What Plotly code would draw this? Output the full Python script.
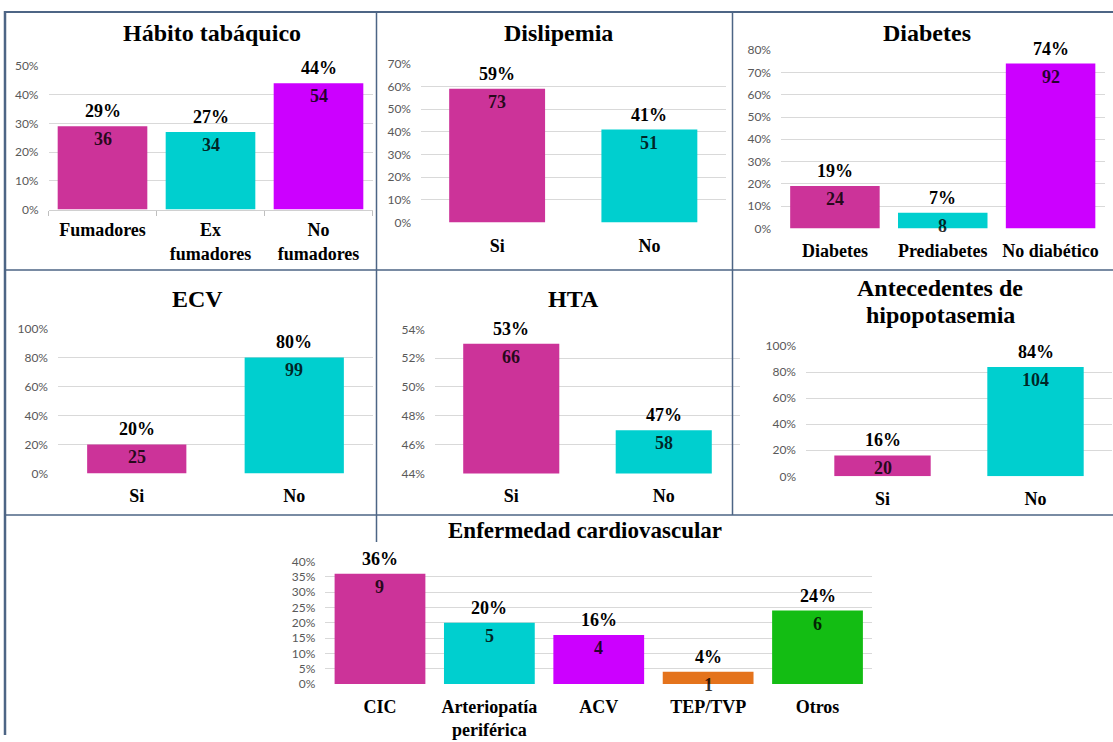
import plotly.graph_objects as go

W, H = 1113, 742

# ---------------- data ----------------
hab_cats = ["Fumadores", "Ex<br>fumadores", "No<br>fumadores"]
hab_pct = [0.29, 0.27, 0.44]
hab_n = [36, 34, 54]

dis_cats = ["Si", "No"]
dis_pct = [0.59, 0.41]
dis_n = [73, 51]

dia_cats = ["Diabetes", "Prediabetes", "No diabético"]
dia_pct = [0.19, 0.07, 0.74]
dia_n = [24, 8, 92]

ecv_cats = ["Si", "No"]
ecv_pct = [0.20, 0.80]
ecv_n = [25, 99]

hta_cats = ["Si", "No"]
hta_pct = [0.53, 0.47]
hta_n = [66, 58]

hipo_cats = ["Si", "No"]
hipo_pct = [0.16, 0.84]
hipo_n = [20, 104]

enf_cats = ["CIC", "Arteriopatía<br>periférica", "ACV", "TEP/TVP", "Otros"]
enf_pct = [0.36, 0.20, 0.16, 0.04, 0.24]
enf_n = [9, 5, 4, 1, 6]

# ---------------- styles ----------------
MAG, TUR, PUR, ORA, GRN = "#CC3399", "#00CFCF", "#CC00FF", "#E4731C", "#13BD13"
SERIF = "Liberation Serif, Times New Roman, serif"
SANS = "Lato, Calibri, sans-serif"
GRID = "#D9D9D9"
BORDER = "#4D6585"

panels = [
    dict(cats=hab_cats, pct=hab_pct, n=hab_n, colors=[MAG, TUR, PUR],
         xpx=(48.5, 372.5), ypx=(59.3, 205.7), rng=(0, 0.5), dtick=0.1, width=0.83,
         titles=[("Hábito tabáquico", 212, 26)], ticks=True),
    dict(cats=dis_cats, pct=dis_pct, n=dis_n, colors=[MAG, TUR],
         xpx=(421, 725.5), ypx=(57, 219), rng=(0, 0.7), dtick=0.1, width=0.63,
         titles=[("Dislipemia", 558, 26)], ticks=False),
    dict(cats=dia_cats, pct=dia_pct, n=dia_n, colors=[MAG, TUR, PUR],
         xpx=(781, 1104.5), ypx=(43, 225), rng=(0, 0.8), dtick=0.1, width=0.83,
         titles=[("Diabetes", 927, 26)], ticks=False),
    dict(cats=ecv_cats, pct=ecv_pct, n=ecv_n, colors=[MAG, TUR],
         xpx=(58, 373), ypx=(327, 475), rng=(0, 1.0), dtick=0.2, width=0.63,
         titles=[("ECV", 197, 297)], ticks=False),
    dict(cats=hta_cats, pct=hta_pct, n=hta_n, colors=[MAG, TUR],
         xpx=(435, 740), ypx=(328, 475), rng=(0.44, 0.54), dtick=0.02, width=0.63,
         titles=[("HTA", 573, 297)], ticks=False),
    dict(cats=hipo_cats, pct=hipo_pct, n=hipo_n, colors=[MAG, TUR],
         xpx=(806, 1112), ypx=(345, 478), rng=(0, 1.0), dtick=0.2, width=0.63,
         titles=[("Antecedentes de", 940, 286), ("hipopotasemia", 940, 313)], ticks=False),
    dict(cats=enf_cats, pct=enf_pct, n=enf_n, colors=[MAG, TUR, PUR, ORA, GRN],
         xpx=(325.3, 872.2), ypx=(565, 690), rng=(0, 0.4), dtick=0.05, width=0.83,
         titles=[("Enfermedad cardiovascular", 585, 533)], ticks=False),
]

fig = go.Figure()
annotations = []
layout_axes = {}

for i, p in enumerate(panels, start=1):
    xa = "x" if i == 1 else f"x{i}"
    ya = "y" if i == 1 else f"y{i}"
    xkey = "xaxis" if i == 1 else f"xaxis{i}"
    ykey = "yaxis" if i == 1 else f"yaxis{i}"

    fig.add_trace(go.Bar(
        x=p["cats"], y=p["pct"], marker=dict(color=p["colors"], line=dict(width=0)),
        width=p["width"], xaxis=xa, yaxis=ya, hoverinfo="skip", showlegend=False,
    ))

    x0, x1 = p["xpx"]
    yt, yb = p["ypx"]
    xaxis = dict(
        domain=[x0 / W, x1 / W], anchor=ya, type="category",
        tickfont=dict(family=SERIF, size=18, color="black", weight="bold"),
        showgrid=False, zeroline=False, fixedrange=True,
    )
    if p["ticks"]:
        xaxis.update(ticks="outside", tickson="boundaries", ticklen=5, tickcolor="#BFBFBF",
                     showline=True, linecolor="#D0D0D0", ticklabelstandoff=4)
    else:
        xaxis.update(ticks="", showline=False, ticklabelstandoff=10)
    yaxis = dict(
        domain=[1 - yb / H, 1 - yt / H], anchor=xa, range=list(p["rng"]),
        dtick=p["dtick"], tick0=0, tickformat=".0%",
        tickfont=dict(family=SANS, size=12, color="#595959"),
        showgrid=True, gridcolor=GRID, gridwidth=1, zeroline=False, showline=False,
        ticks="", ticklabelstandoff=9, fixedrange=True,
    )
    layout_axes[xkey] = xaxis
    layout_axes[ykey] = yaxis

    for c, v, n in zip(p["cats"], p["pct"], p["n"]):
        annotations.append(dict(
            x=c, y=v, xref=xa, yref=ya, text=f"{round(v * 100)}%", showarrow=False,
            yanchor="bottom", yshift=3,
            font=dict(family=SERIF, size=18, color="black", weight="bold"),
        ))
        annotations.append(dict(
            x=c, y=v, xref=xa, yref=ya, text=str(n), showarrow=False,
            yanchor="top", yshift=-1,
            font=dict(family=SERIF, size=18, color="rgba(0,0,0,0.82)", weight="bold"),
        ))

    for t, tx, ty in p["titles"]:
        annotations.append(dict(
            x=tx / W, y=1 - ty / H, xref="paper", yref="paper", text=t, showarrow=False,
            xanchor="center", yanchor="middle",
            font=dict(family=SERIF, size=24 if i != 7 else 23, color="black", weight="bold"),
        ))

# ---------------- panel borders ----------------
def line(x0, y0, x1, y1, w=1.5):
    return dict(type="line", xref="paper", yref="paper",
                x0=x0 / W, y0=1 - y0 / H, x1=x1 / W, y1=1 - y1 / H,
                line=dict(color=BORDER, width=w), layer="above")

shapes = [
    line(5, 3, 5, 742, 2.5),        # outer left
    line(4, 4, 1113, 4, 2),         # outer top
    line(4, 267.5, 1113, 267.5),    # row 1 / row 2
    line(4, 517.5, 1113, 517.5),    # row 2 / row 3
    line(376.5, 4, 376.5, 545),     # column divider 1
    line(732.5, 4, 732.5, 517.5),   # column divider 2
]

fig.update_layout(
    width=W, height=H, margin=dict(l=0, r=0, t=0, b=0),
    paper_bgcolor="white", plot_bgcolor="white", showlegend=False,
    annotations=annotations, shapes=shapes, **layout_axes,
)

fig.write_html("out.html")
